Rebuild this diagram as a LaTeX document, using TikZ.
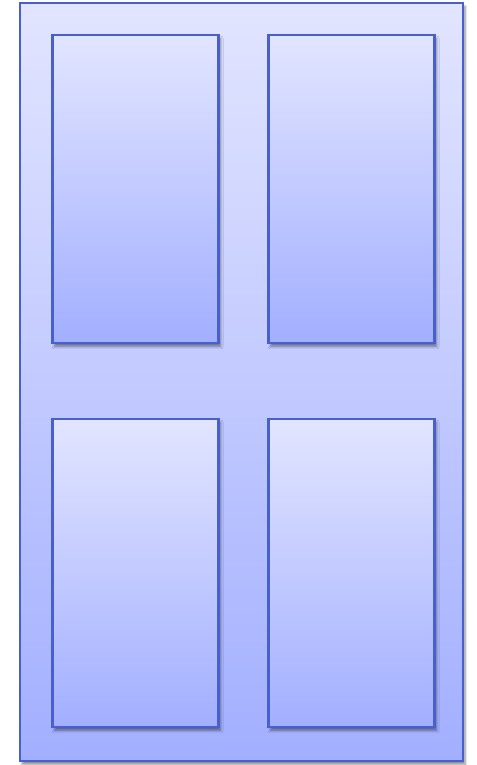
\documentclass[tikz,border=0pt]{standalone}
\usetikzlibrary{shadows.blur}

\definecolor{doorline}{RGB}{72,96,205}
\definecolor{doortop}{RGB}{226,229,255}
\definecolor{doorbottom}{RGB}{162,175,255}

\begin{document}
\begin{tikzpicture}[
    x=0.025cm, y=-0.025cm,
    door/.style={rectangle, draw=doorline, line width=1.6pt, inner sep=0pt, outer sep=0pt,
        top color=doortop, bottom color=doorbottom,
        blur shadow={shadow xshift=1.5pt, shadow yshift=-2.5pt, shadow blur steps=8, shadow opacity=45}},
    panel/.style={door, minimum width=4.15cm, minimum height=7.7cm},
]
\useasboundingbox (0,0) rectangle (476,765);

\node[door, minimum width=11.075cm, minimum height=18.95cm] (frame) at (241.5,382) {};

\node[panel] (p1) at (135.5,189) {};
\node[panel] (p2) at (351.5,189) {};
\node[panel] (p3) at (135.5,573) {};
\node[panel] (p4) at (351.5,573) {};
\end{tikzpicture}
\end{document}
